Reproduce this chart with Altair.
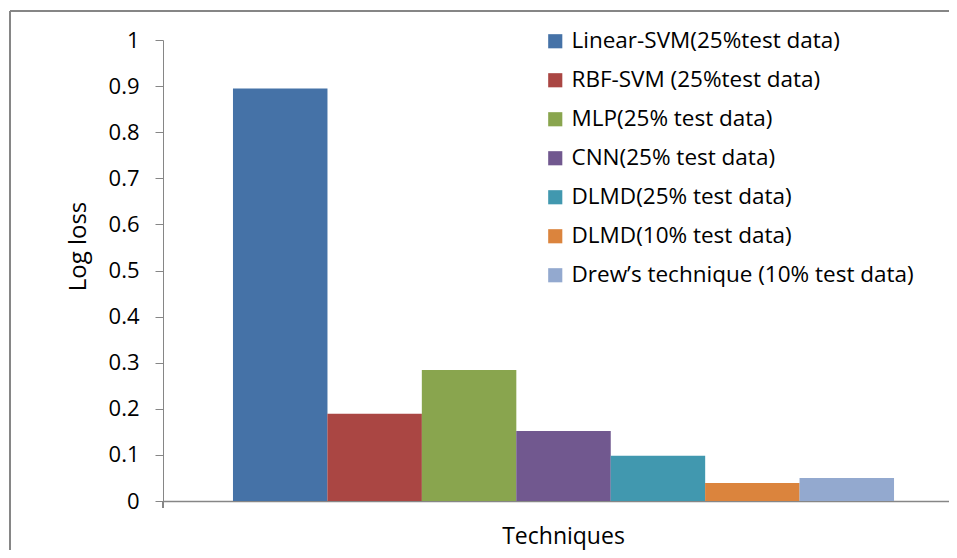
import altair as alt
import pandas as pd

techniques = [
    "Linear-SVM(25%test data)",
    "RBF-SVM (25%test data)",
    "MLP(25% test data)",
    "CNN(25% test data)",
    "DLMD(25% test data)",
    "DLMD(10% test data)",
    "Drew\u2019s technique (10% test data)",
]
log_loss = [0.895, 0.189, 0.284, 0.152, 0.098, 0.039, 0.050]
colors = ["#4572A7", "#AA4643", "#89A54E", "#71588F", "#4198AF", "#DB843D", "#93A9CF"]
y_ticks = [0, 0.1, 0.2, 0.3, 0.4, 0.5, 0.6, 0.7, 0.8, 0.9, 1]

df = pd.DataFrame({"technique": techniques, "logloss": log_loss})

FONT = "Open Sans"
GRAY = "#868686"
W, H = 786, 461

bars = alt.Chart(df).mark_bar(size=94.5).encode(
    x=alt.X("technique:N", sort=techniques,
            scale=alt.Scale(paddingInner=0, paddingOuter=0.662, align=0.56),
            axis=alt.Axis(labels=False, ticks=False, domain=True, domainColor=GRAY,
                          domainWidth=1.5, title="Techniques", titleFont=FONT,
                          titleFontSize=23, titleFontWeight="normal", titleColor="black",
                          titlePadding=24, titleX=400)),
    y=alt.Y("logloss:Q", scale=alt.Scale(domain=[0, 1], nice=False),
            axis=alt.Axis(values=y_ticks, format="~g", grid=False, tickSize=8,
                          tickColor=GRAY, domainColor=GRAY, labelFont=FONT,
                          labelFontSize=22, labelColor="black", labelPadding=16,
                          title="Log loss", titleFont=FONT, titleFontSize=24,
                          titleFontWeight="normal", titleColor="black", titlePadding=18,
                          titleY=206)),
    color=alt.Color("technique:N", sort=techniques,
                    scale=alt.Scale(domain=techniques, range=colors),
                    legend=alt.Legend(title=None, orient="none", legendX=381, legendY=-10,
                                      symbolType="square", symbolSize=200,
                                      symbolStrokeWidth=0, labelFont=FONT,
                                      labelFontSize=22.5, labelColor="black",
                                      labelOffset=5, rowPadding=16, labelLimit=500)),
)

frame_left = alt.Chart(df).mark_rule(color=GRAY, strokeWidth=1.5).encode(
    x=alt.value(-153), y=alt.value(-29), y2=alt.value(H + 60))
frame_top = alt.Chart(df).mark_rule(color=GRAY, strokeWidth=1.5).encode(
    x=alt.value(-153), x2=alt.value(W), y=alt.value(-29))
x_tick = alt.Chart(df).mark_rule(color=GRAY, strokeWidth=1.5).encode(
    x=alt.value(0), y=alt.value(H), y2=alt.value(H + 7))

chart = alt.layer(bars, frame_left, frame_top, x_tick).properties(
    width=W, height=H,
    padding={"left": 155, "top": 32, "right": 0, "bottom": 49},
    autosize=alt.AutoSizeParams(type="none"),
).configure_view(stroke=None)

chart.save("out.html", embed_options={"renderer": "svg", "actions": False})
